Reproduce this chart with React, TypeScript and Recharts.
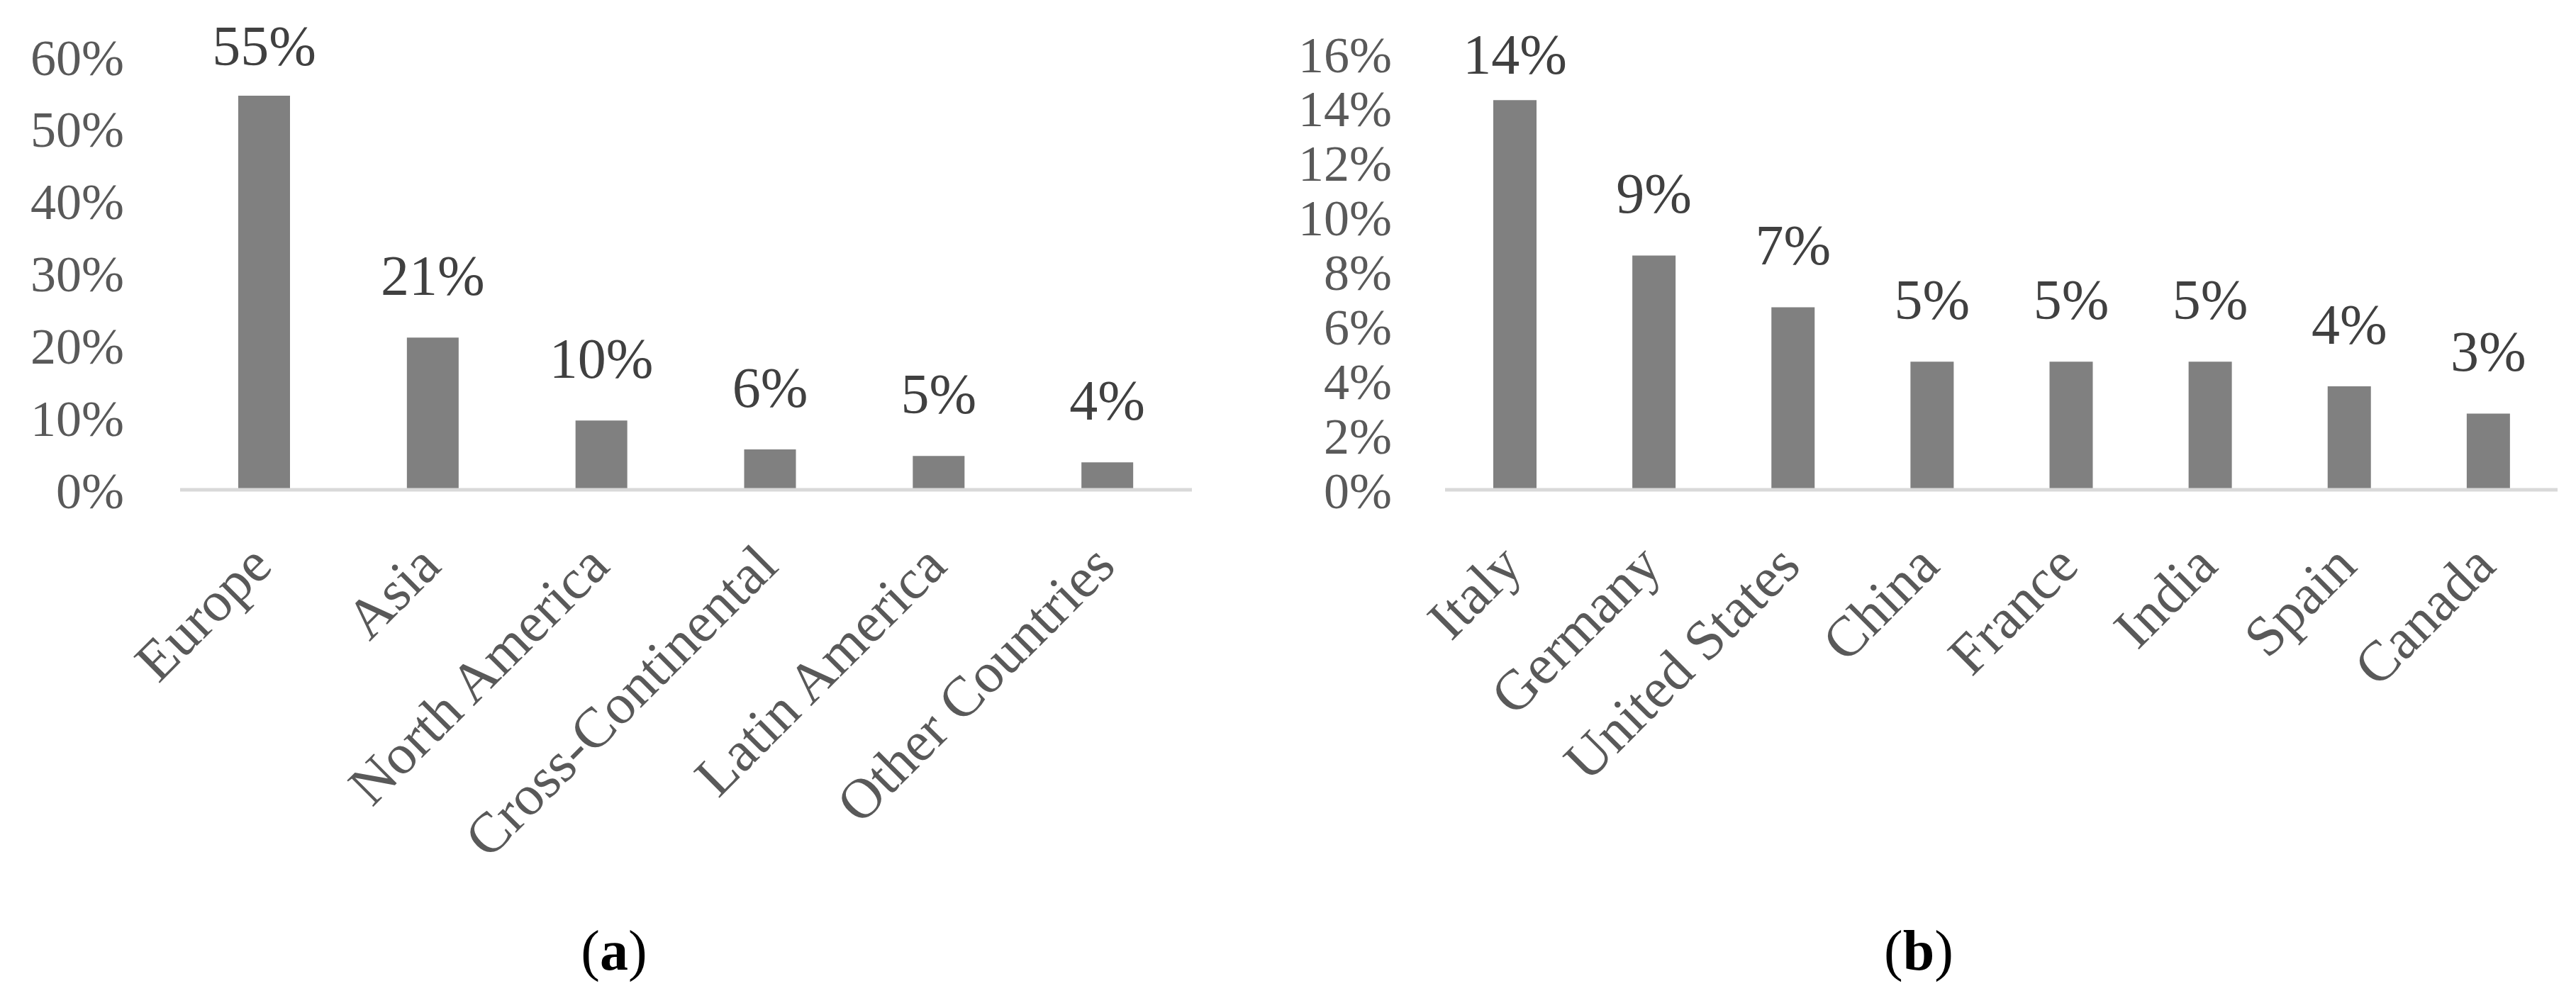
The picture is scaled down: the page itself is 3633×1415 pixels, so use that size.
import React from 'react';
import { BarChart, Bar, XAxis, YAxis, LabelList } from 'recharts';

const regionCategories = ['Europe', 'Asia', 'North America', 'Cross-Continental', 'Latin America', 'Other Countries'];
const regionShares = [54.6, 21.1, 9.6, 5.6, 4.7, 3.8];
const regionTicks = [0, 10, 20, 30, 40, 50, 60];

const countryCategories = ['Italy', 'Germany', 'United States', 'China', 'France', 'India', 'Spain', 'Canada'];
const countryShares = [14.3, 8.6, 6.7, 4.7, 4.7, 4.7, 3.8, 2.8];
const countryTicks = [0, 2, 4, 6, 8, 10, 12, 14, 16];

const captions = ['a', 'b'];

const FONT = '"Liberation Serif", "Times New Roman", serif';

const regionData = regionCategories.map((name, i) => ({ name, value: regionShares[i] }));
const countryData = countryCategories.map((name, i) => ({ name, value: countryShares[i] }));

const XTick = (props: any) => {
  const { x, y, payload } = props;
  return (
    <g transform={`translate(${x + 14},${y + 111})`}>
      <text textAnchor="end" transform="rotate(-45)" fontSize={80} fill="#595959" fontFamily={FONT}>
        {payload.value}
      </text>
    </g>
  );
};

const makeLabel = (minBaseline: number) => (props: any) => {
  const { x, y, width, value } = props;
  const by = Math.max(Number(y) - 60, minBaseline);
  return (
    <text x={Number(x) + Number(width) / 2} y={by} textAnchor="middle" fontSize={80} fill="#404040" fontFamily={FONT}>
      {Math.round(Number(value))}%
    </text>
  );
};

const pct = (v: number) => `${v}%`;

function Panel(props: {
  data: any[];
  ticks: number[];
  max: number;
  width: number;
  left: number;
  yWidth: number;
  tickMargin: number;
  right: number;
  top: number;
  barSize: number;
  minLabel: number;
}) {
  const { data, ticks, max, width, left, yWidth, tickMargin, right, top, barSize, minLabel } = props;
  return (
    <div style={{ position: 'absolute', left, top: 0 }}>
      <BarChart
        width={width}
        height={1415}
        data={data}
        margin={{ top, right, bottom: 424, left: 0 }}
        barCategoryGap="10%"
      >
        <XAxis
          dataKey="name"
          interval={0}
          height={300}
          tickLine={false}
          tickSize={0}
          tickMargin={0}
          axisLine={{ stroke: '#d9d9d9', strokeWidth: 5 }}
          tick={<XTick />}
        />
        <YAxis
          width={yWidth}
          domain={[0, max]}
          ticks={ticks}
          interval={0}
          axisLine={false}
          tickLine={false}
          tickSize={0}
          tickMargin={tickMargin}
          tickFormatter={pct}
          tick={{ fontSize: 72, fill: '#595959', fontFamily: FONT }}
        />
        <Bar dataKey="value" fill="#808080" barSize={barSize} isAnimationActive={false}>
          <LabelList dataKey="value" content={makeLabel(minLabel)} />
        </Bar>
      </BarChart>
    </div>
  );
}

export default function App() {
  return (
    <div style={{ position: 'absolute', left: 0, top: 0, width: 3633, height: 1415, background: '#ffffff', overflow: 'hidden' }}>
      <Panel
        data={regionData}
        ticks={regionTicks}
        max={60}
        width={1700}
        left={0}
        yWidth={254}
        tickMargin={79}
        right={19}
        top={80}
        barSize={73}
        minLabel={92}
      />
      <Panel
        data={countryData}
        ticks={countryTicks}
        max={16}
        width={1853}
        left={1780}
        yWidth={258}
        tickMargin={75}
        right={26}
        top={76}
        barSize={61}
        minLabel={104}
      />
      <svg width={3633} height={1415} style={{ position: 'absolute', left: 0, top: 0, pointerEvents: 'none' }}>
        <text x={866} y={1368} textAnchor="middle" fontSize={80} fill="#000000" fontFamily={FONT}>
          (<tspan fontWeight="bold">{captions[0]}</tspan>)
        </text>
        <text x={2706} y={1368} textAnchor="middle" fontSize={80} fill="#000000" fontFamily={FONT}>
          (<tspan fontWeight="bold">{captions[1]}</tspan>)
        </text>
      </svg>
    </div>
  );
}
